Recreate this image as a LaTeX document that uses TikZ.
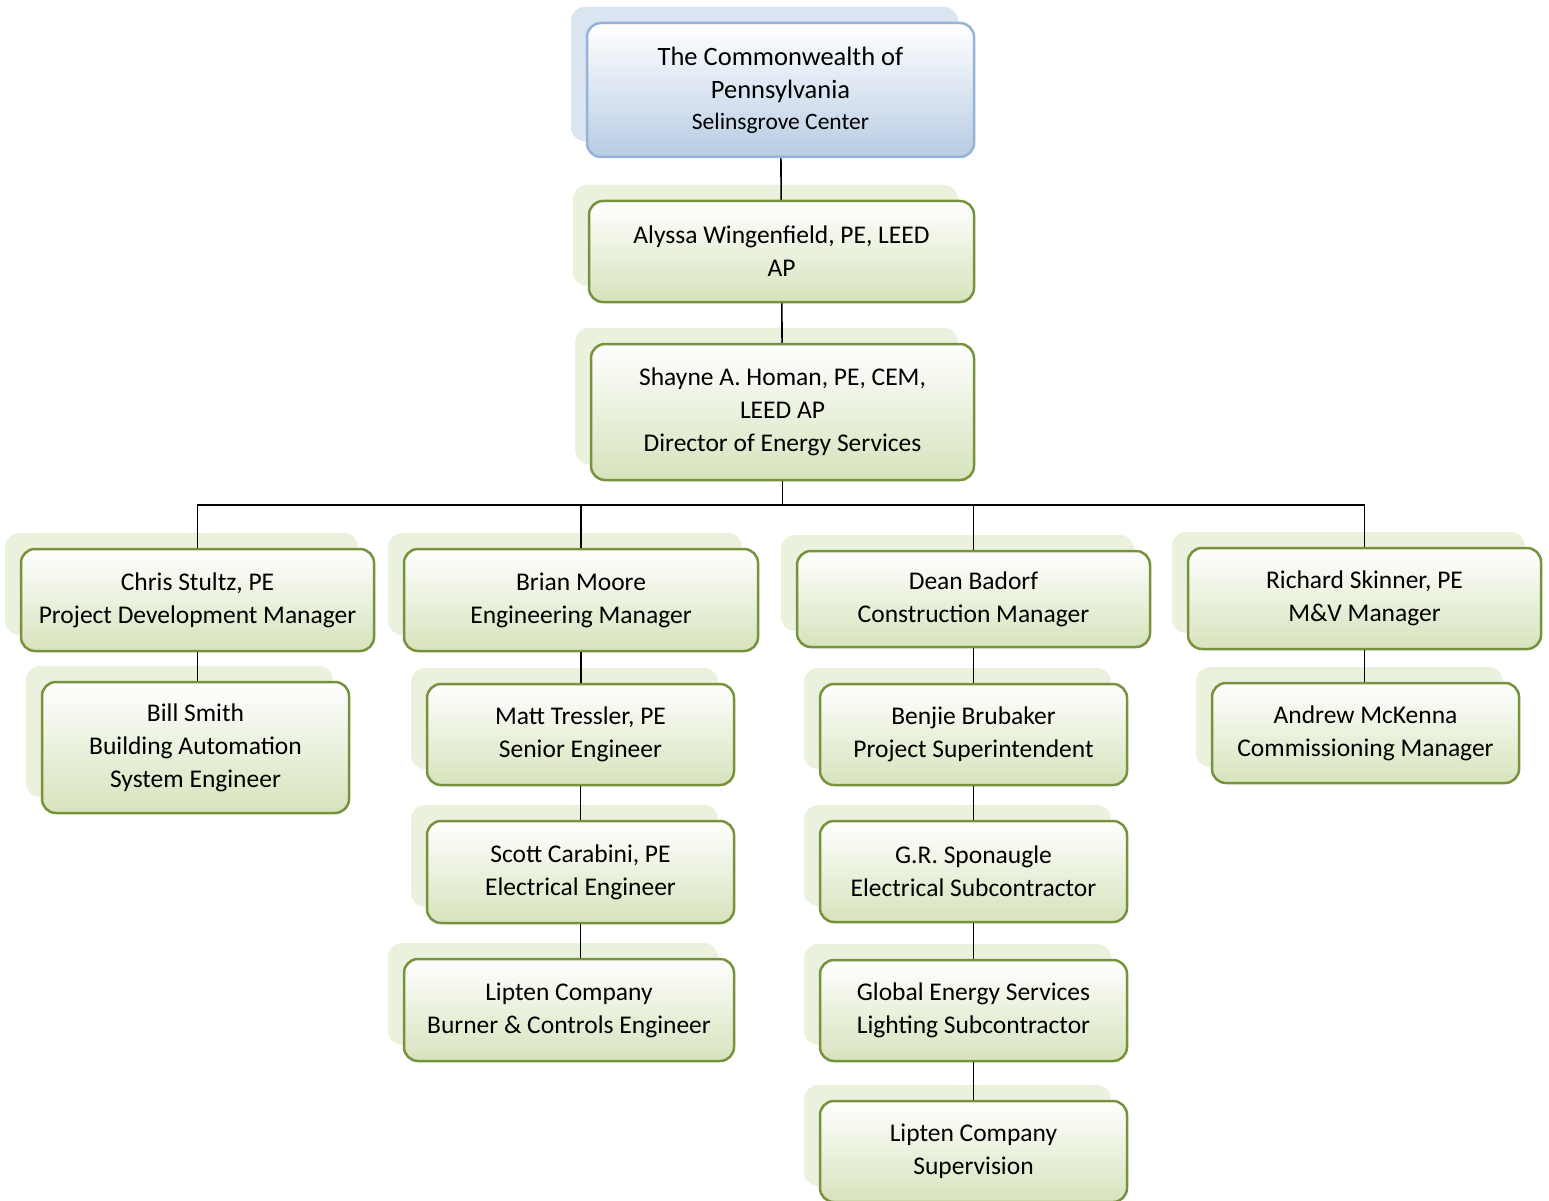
\documentclass[tikz,border=0pt]{standalone}
\usepackage{fontspec}
\setmainfont{Carlito}
\usepackage{tikz}
\usetikzlibrary{shadows}
\usepackage{xcolor}
\definecolor{boxgreen}{RGB}{118,146,60}
\definecolor{fillgreen}{RGB}{214,227,188}
\definecolor{shadegreen}{RGB}{234,241,221}
\definecolor{boxblue}{RGB}{149,179,215}
\definecolor{fillblue}{RGB}{184,204,228}
\definecolor{shadeblue}{RGB}{219,229,241}
\newcommand{\boxfont}{\fontsize{25.5}{33}\selectfont}

\begin{document}
\begin{tikzpicture}[
    x=1pt, y=-1pt,
    gbox/.style={draw=boxgreen, line width=2.5pt, rounded corners=14pt, top color=white, bottom color=fillgreen,
        align=center, inner sep=0pt, font=\boxfont,
        general shadow={fill=shadegreen, shadow xshift=-16pt, shadow yshift=16pt}},
    bbox/.style={gbox, draw=boxblue, bottom color=fillblue,
        general shadow={fill=shadeblue, shadow xshift=-16pt, shadow yshift=16pt}},
    link/.style={draw=black, line width=1.6pt}
]
    \useasboundingbox (0,0) rectangle (1549,1201);

    % Nodes
    \node[bbox, minimum width=387pt, minimum height=134pt, font=\fontsize{26.5}{33}\selectfont] (top) at (780.5,90)
        {The Commonwealth of\\Pennsylvania\\[-2pt]{\fontsize{23.5}{31}\selectfont Selinsgrove Center}};
    \node[gbox, minimum width=385pt, minimum height=101pt] (alyssa) at (781.5,251.5) {Alyssa Wingenfield, PE, LEED\\AP};
    \node[gbox, minimum width=383pt, minimum height=136pt] (shayne) at (782.5,412) {Shayne A. Homan, PE, CEM,\\LEED AP\\Director of Energy Services};

    \node[gbox, minimum width=353pt, minimum height=102pt] (chris) at (197.5,600) {Chris Stultz, PE\\Project Development Manager};
    \node[gbox, minimum width=354pt, minimum height=102pt] (brian) at (581,600) {Brian Moore\\Engineering Manager};
    \node[gbox, minimum width=353pt, minimum height=96pt] (dean) at (973.5,599) {Dean Badorf\\Construction Manager};
    \node[gbox, minimum width=353pt, minimum height=101pt] (richard) at (1364.5,598.5) {Richard Skinner, PE\\M\&V Manager};

    \node[gbox, minimum width=307pt, minimum height=131pt] (bill) at (195.5,747.5) {Bill Smith\\Building Automation\\System Engineer};

    \node[gbox, minimum width=307pt, minimum height=101pt] (matt) at (580.5,734.5) {Matt Tressler, PE\\Senior Engineer};
    \node[gbox, minimum width=307pt, minimum height=102pt] (scott) at (580.5,872) {Scott Carabini, PE\\Electrical Engineer};
    \node[gbox, minimum width=330pt, minimum height=102pt] (burner) at (569,1010) {Lipten Company\\Burner \& Controls Engineer};

    \node[gbox, minimum width=307pt, minimum height=101pt] (benjie) at (973.5,734.5) {Benjie Brubaker\\Project Superintendent};
    \node[gbox, minimum width=307pt, minimum height=101pt] (sponaugle) at (973.5,871.5) {G.R. Sponaugle\\Electrical Subcontractor};
    \node[gbox, minimum width=307pt, minimum height=101pt] (global) at (973.5,1010.5) {Global Energy Services\\Lighting Subcontractor};
    \node[gbox, minimum width=307pt, minimum height=101pt] (super) at (973.5,1151.5) {Lipten Company\\Supervision};

    \node[gbox, minimum width=307pt, minimum height=100pt] (andrew) at (1365.5,733) {Andrew McKenna\\Commissioning Manager};

    % Lines
    \coordinate (bus) at (781,505);
    \draw[link] (top) -- (alyssa);
    \draw[link] (alyssa) -- (shayne);
    \draw[link] (shayne.south) -- (shayne.south |- bus);
    \draw[link] (chris.north) -- (chris.north |- bus) -- (richard.north |- bus) -- (richard.north);
    \draw[link] (brian.north) -- (brian.north |- bus);
    \draw[link] (dean.north) -- (dean.north |- bus);

    \draw[link] (chris.south) -- (chris.south |- bill.north);
    \draw[link] (brian.south) -- (brian.south |- matt.north);
    \draw[link] (matt) -- (scott);
    \draw[link] (scott.south) -- (scott.south |- burner.north);
    \draw[link] (dean) -- (benjie);
    \draw[link] (benjie) -- (sponaugle);
    \draw[link] (sponaugle) -- (global);
    \draw[link] (global) -- (super);
    \draw[link] (richard.south) -- (richard.south |- andrew.north);
\end{tikzpicture}
\end{document}
